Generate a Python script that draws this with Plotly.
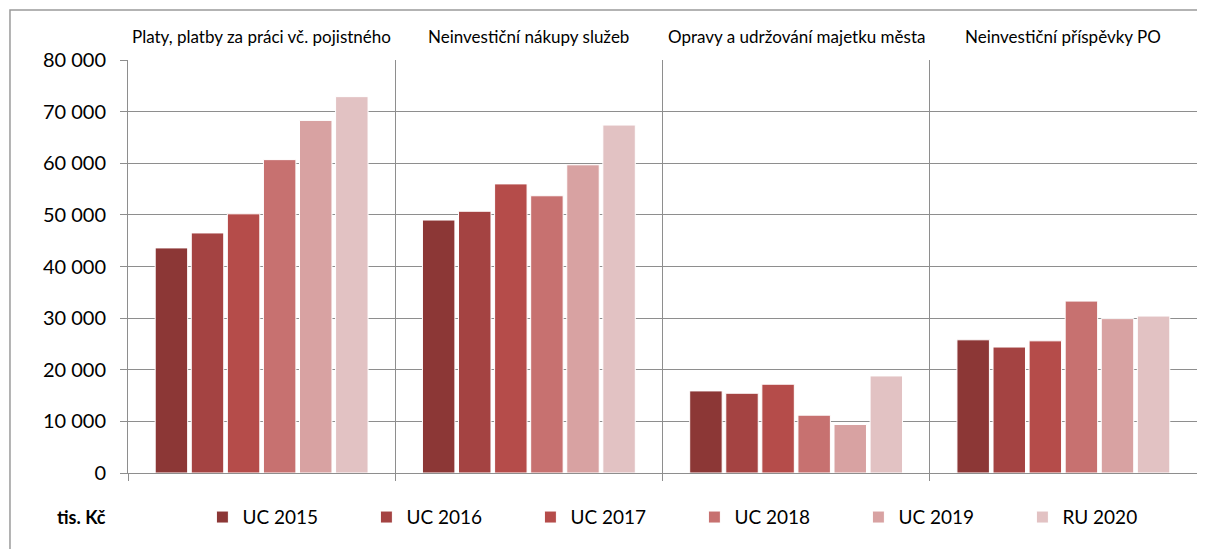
import plotly.graph_objects as go

# Kategorie výdajů (panely)
kategorie = [
    "Platy, platby za práci vč. pojistného",
    "Neinvestiční nákupy služeb",
    "Opravy a udržování majetku města",
    "Neinvestiční příspěvky PO",
]

# Hodnoty v tis. Kč
uc_2015 = [43600, 49000, 15900, 25800]
uc_2016 = [46500, 50700, 15450, 24400]
uc_2017 = [50200, 56000, 17200, 25600]
uc_2018 = [60700, 53700, 11200, 33300]
uc_2019 = [68300, 59700, 9400, 29900]
ru_2020 = [72900, 67400, 18800, 30400]

nazvy_rad = ["UC 2015", "UC 2016", "UC 2017", "UC 2018", "UC 2019", "RU 2020"]
barvy = ["#8c3736", "#a44342", "#b54c4a", "#c77170", "#d8a2a2", "#e2c2c3"]

y_ticks = [0, 10000, 20000, 30000, 40000, 50000, 60000, 70000, 80000]

FONT = "Lato, Calibri, Carlito, sans-serif"
GRID = "#8e8e8e"

x_pos = list(range(len(kategorie)))
serie = [uc_2015, uc_2016, uc_2017, uc_2018, uc_2019, ru_2020]

fig = go.Figure()
for nazev, hodnoty, barva in zip(nazvy_rad, serie, barvy):
    fig.add_trace(go.Bar(
        x=x_pos,
        y=hodnoty,
        name=nazev,
        marker=dict(color=barva, line=dict(color="white", width=1)),
    ))

# Nadpisy panelů
annotations = []
for i, nazev in enumerate(kategorie):
    annotations.append(dict(
        x=i, y=1.056, xref="x", yref="paper",
        text=nazev, showarrow=False,
        font=dict(family=FONT, size=17, color="black"),
        xanchor="center", yanchor="middle",
    ))

annotations.append(dict(
    x=-0.068, y=-0.107, xref="paper", yref="paper",
    text="<b>tis. Kč</b>", showarrow=False,
    font=dict(family=FONT, size=18, color="black"),
    xanchor="left", yanchor="middle",
))

# stránka má okraj 8 px, proto jsou okraje posunuté
fig.update_layout(
    width=1205,
    height=549,
    margin=dict(l=120, r=16, t=52, b=84, autoexpand=False),
    paper_bgcolor="white",
    plot_bgcolor="white",
    barmode="group",
    bargap=0.19,
    bargroupgap=0.1,
    separators=", ",
    font=dict(family=FONT, color="black"),
    showlegend=True,
    legend=dict(
        orientation="h",
        x=0.0696, y=-0.107,
        xanchor="left", yanchor="middle",
        entrywidth=119, entrywidthmode="pixels",
        itemwidth=30,
        font=dict(family=FONT, size=19, color="black"),
        bgcolor="rgba(0,0,0,0)",
    ),
    annotations=annotations,
    shapes=[dict(
        type="rect", xref="paper", yref="paper",
        x0=-0.1104, x1=1.2, y0=-0.5, y1=1.121,
        line=dict(color="#9a9a9a", width=1.5),
        fillcolor="rgba(0,0,0,0)", layer="below",
    )],
)

fig.update_xaxes(
    range=[-0.5, 3.5],
    tickvals=[-0.5, 0.5, 1.5, 2.5, 3.5],
    showticklabels=False,
    ticks="outside", ticklen=7, tickcolor=GRID,
    showgrid=True, gridcolor=GRID, gridwidth=1,
    showline=True, linecolor=GRID, linewidth=1,
    zeroline=False,
)

fig.update_yaxes(
    range=[0, 80000],
    tickvals=y_ticks,
    tickformat=",d",
    ticks="outside", ticklen=7, tickcolor=GRID,
    ticklabelstandoff=10,
    showgrid=True, gridcolor=GRID, gridwidth=1,
    showline=True, linecolor=GRID, linewidth=1,
    zeroline=False,
    tickfont=dict(family=FONT, size=20, color="black"),
)

fig.write_html("out.html")
